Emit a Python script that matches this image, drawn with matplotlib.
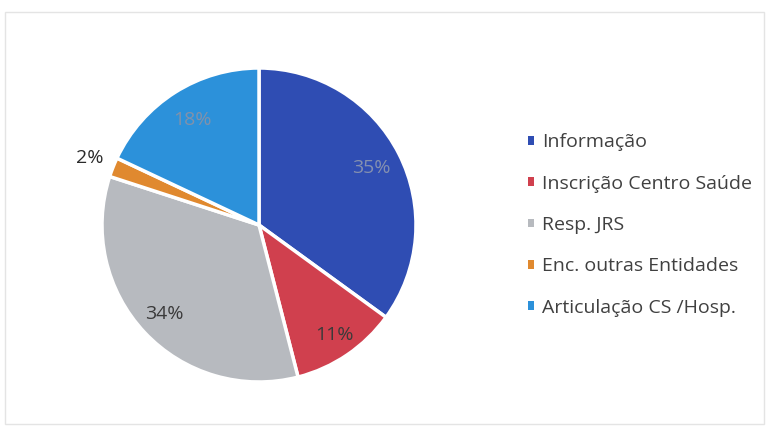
import matplotlib.pyplot as plt
import numpy as np
from matplotlib.patches import Rectangle

plt.rcParams['font.family'] = ['Open Sans', 'DejaVu Sans']

labels = ['Informação', 'Inscrição Centro Saúde', 'Resp. JRS',
          'Enc. outras Entidades', 'Articulação CS /Hosp.']
shares = [35, 11, 34, 2, 18]
colors = ['#2F4DB3', '#D0404E', '#B7BABF', '#E0892F', '#2C91DA']
label_colors = ['#8490B0', '#3A3A3A', '#3A3A3A', '#2A2A2A', '#8292AA']
label_dist = [0.80, 0.85, 0.83, 1.16, 0.79]

W, H = 769, 436
fig = plt.figure(figsize=(W / 100, H / 100), dpi=100)
fig.patch.set_facecolor('white')

# faint chart frame
fig.add_artist(Rectangle((5 / W, 12 / H), 759 / W, 412 / H,
                         transform=fig.transFigure, fill=False,
                         edgecolor='#E4E4E4', linewidth=1.0))

cx, cy, r = 259, H - 225, 157
ax = fig.add_axes([(cx - r) / W, (cy - r) / H, 2 * r / W, 2 * r / H])
wedges, _ = ax.pie(shares, colors=colors, startangle=90, counterclock=False,
                   wedgeprops=dict(edgecolor='white', linewidth=2.5))
ax.set_xlim(-1, 1)
ax.set_ylim(-1, 1)
ax.set_aspect('equal')

for w, v, c, d in zip(wedges, shares, label_colors, label_dist):
    ang = np.deg2rad((w.theta1 + w.theta2) / 2)
    ax.text(d * np.cos(ang), d * np.sin(ang), f'{v}%', ha='center', va='center',
            fontsize=14, color=c)

leg = fig.legend(wedges, labels, loc='center left',
                 bbox_to_anchor=(528 / W, 1 - 225 / H),
                 frameon=False, fontsize=14, borderpad=0, borderaxespad=0,
                 handlelength=0.31, handleheight=0.31, handletextpad=0.42,
                 labelspacing=1.2, labelcolor='#404040')
for h in leg.legend_handles:
    h.set_linewidth(0)

fig.savefig('out.png', dpi=100)
